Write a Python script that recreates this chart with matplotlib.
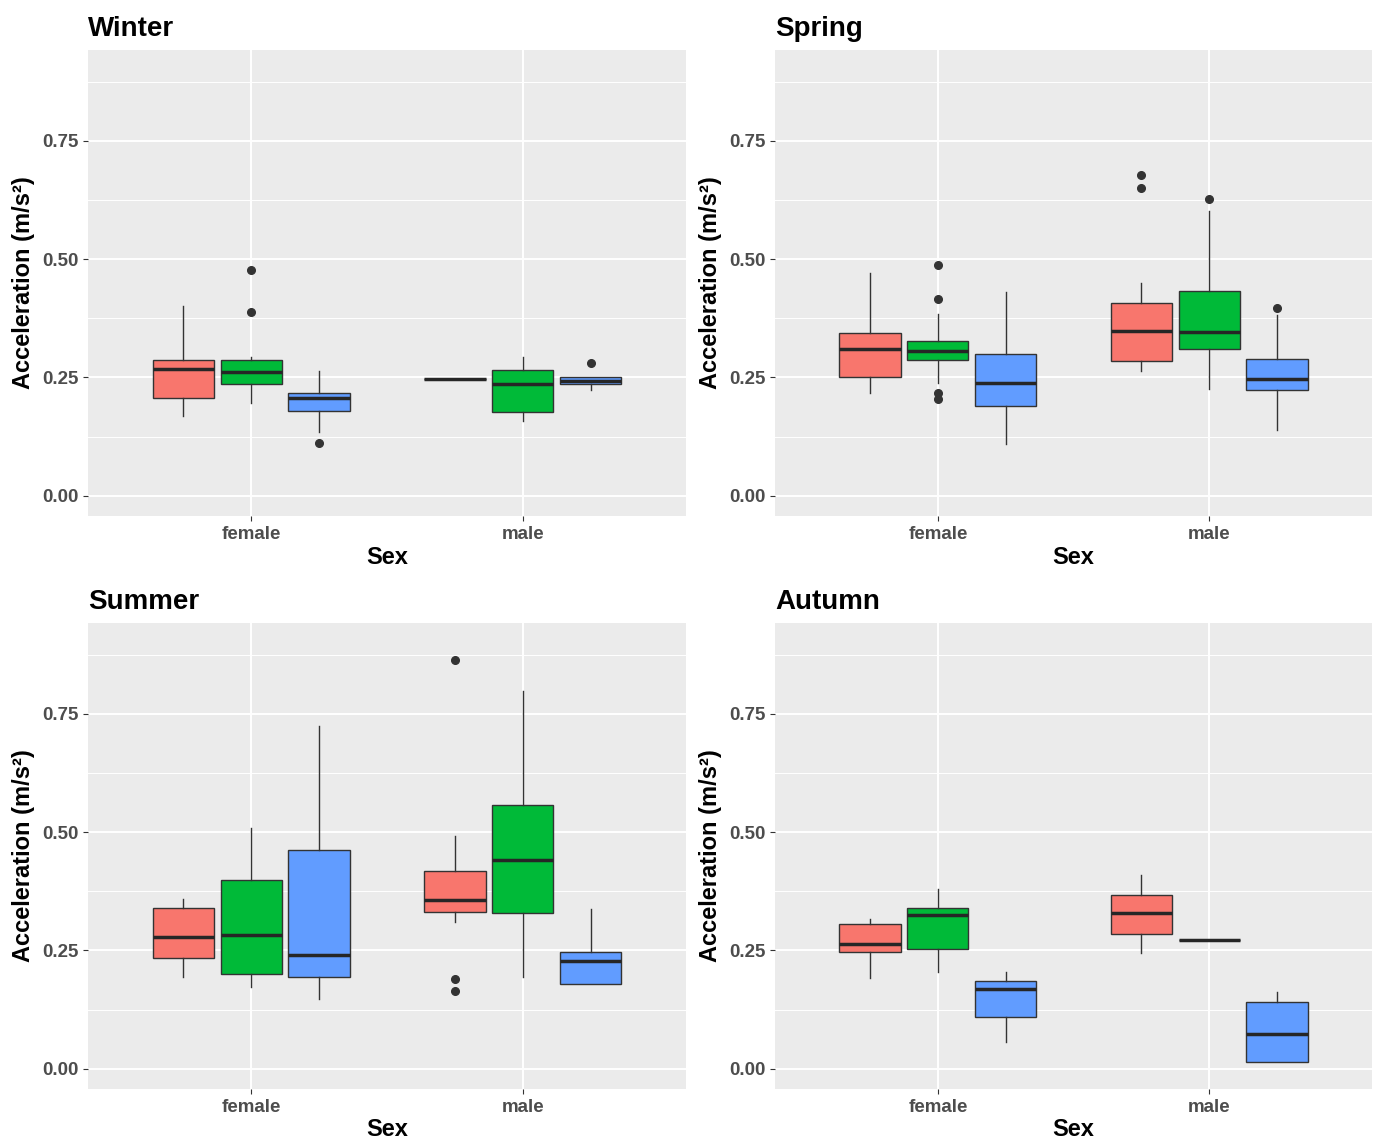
import matplotlib.pyplot as plt

# data: each season has 6 boxes, order = female(red, green, blue), male(red, green, blue)
seasons = ['Winter', 'Spring', 'Summer', 'Autumn']
sexes = ['female', 'male']
group_colors = ['#F8766D', '#00BA38', '#619CFF']

whislo = [[0.169, 0.196, 0.134, 0.246, 0.157, 0.223],
          [0.217, 0.238, 0.109, 0.263, 0.225, 0.139],
          [0.193, 0.173, 0.147, 0.309, 0.193, 0.178],
          [0.192, 0.204, 0.057, 0.244, 0.272, 0.015]]
q1 = [[0.206, 0.236, 0.179, 0.246, 0.176, 0.236],
      [0.251, 0.286, 0.189, 0.284, 0.311, 0.223],
      [0.233, 0.201, 0.193, 0.332, 0.329, 0.178],
      [0.247, 0.252, 0.109, 0.285, 0.272, 0.015]]
med = [[0.268, 0.262, 0.206, 0.246, 0.235, 0.243],
       [0.309, 0.305, 0.239, 0.347, 0.345, 0.246],
       [0.279, 0.283, 0.240, 0.357, 0.441, 0.227],
       [0.264, 0.324, 0.168, 0.328, 0.272, 0.074]]
q3 = [[0.286, 0.286, 0.216, 0.246, 0.265, 0.251],
      [0.343, 0.327, 0.299, 0.408, 0.432, 0.288],
      [0.339, 0.399, 0.462, 0.418, 0.557, 0.246],
      [0.306, 0.339, 0.186, 0.368, 0.272, 0.141]]
whishi = [[0.400, 0.294, 0.263, 0.246, 0.293, 0.251],
          [0.470, 0.385, 0.430, 0.450, 0.602, 0.382],
          [0.358, 0.509, 0.725, 0.492, 0.798, 0.338],
          [0.316, 0.379, 0.204, 0.410, 0.272, 0.161]]
fliers = [[[], [0.478, 0.389], [0.111], [], [], [0.281]],
          [[], [0.488, 0.416, 0.218, 0.204], [], [0.678, 0.651], [0.628], [0.397]],
          [[], [], [], [0.864, 0.189, 0.165], [], []],
          [[], [], [], [], [], []]]

plt.rcParams['font.family'] = ['Liberation Sans', 'DejaVu Sans']

fig = plt.figure(figsize=(13.76, 11.44), dpi=100)
W, H = 1376, 1144
# panel boxes in pixels: left, top, right, bottom
panels = [(88, 50, 686, 516), (775, 50, 1372, 516),
          (88, 623, 686, 1089), (775, 623, 1372, 1089)]

for k, season in enumerate(seasons):
    l, t, r, b = panels[k]
    ax = fig.add_axes([l / W, 1 - b / H, (r - l) / W, (b - t) / H])
    ax.set_facecolor('#EBEBEB')

    stats = []
    pos = []
    for j in range(6):
        stats.append(dict(med=med[k][j], q1=q1[k][j], q3=q3[k][j],
                          whislo=whislo[k][j], whishi=whishi[k][j],
                          fliers=fliers[k][j]))
        pos.append(1 + j // 3 + (j % 3 - 1) * 0.25)

    bp = ax.bxp(stats, positions=pos, widths=0.225, patch_artist=True,
                showcaps=False, manage_ticks=False,
                boxprops=dict(edgecolor='#333333', linewidth=1.0),
                whiskerprops=dict(color='#333333', linewidth=1.0),
                medianprops=dict(color='#262626', linewidth=2.5, solid_capstyle='butt'),
                flierprops=dict(marker='o', markersize=5.5, markerfacecolor='#333333',
                                markeredgecolor='#333333'))
    for j, patch in enumerate(bp['boxes']):
        patch.set_facecolor(group_colors[j % 3])

    ax.set_xlim(0.4, 2.6)
    ax.set_ylim(-0.043, 0.942)
    ax.set_yticks([0, 0.25, 0.5, 0.75])
    ax.set_yticklabels(['0.00', '0.25', '0.50', '0.75'])
    ax.set_yticks([0.125, 0.375, 0.625, 0.875], minor=True)
    ax.set_xticks([1, 2])
    ax.set_xticklabels(sexes)
    ax.grid(True, which='major', color='white', linewidth=1.4)
    ax.grid(True, which='minor', axis='y', color='white', linewidth=0.7)
    ax.set_axisbelow(True)
    for s in ax.spines.values():
        s.set_visible(False)
    ax.tick_params(axis='both', which='major', length=3.5, color='#333333',
                   labelcolor='#4D4D4D', labelsize=13.5)
    ax.tick_params(axis='y', which='minor', length=0)
    for lab in ax.get_xticklabels() + ax.get_yticklabels():
        lab.set_fontweight('bold')

    ax.set_title(season, loc='left', fontsize=20, fontweight='bold', pad=10)
    ax.set_xlabel('Sex', fontsize=17, fontweight='bold', labelpad=2)
    ax.set_ylabel('Acceleration (m/s²)', fontsize=17, fontweight='bold', labelpad=5)

fig.savefig('out.png', dpi=100)
